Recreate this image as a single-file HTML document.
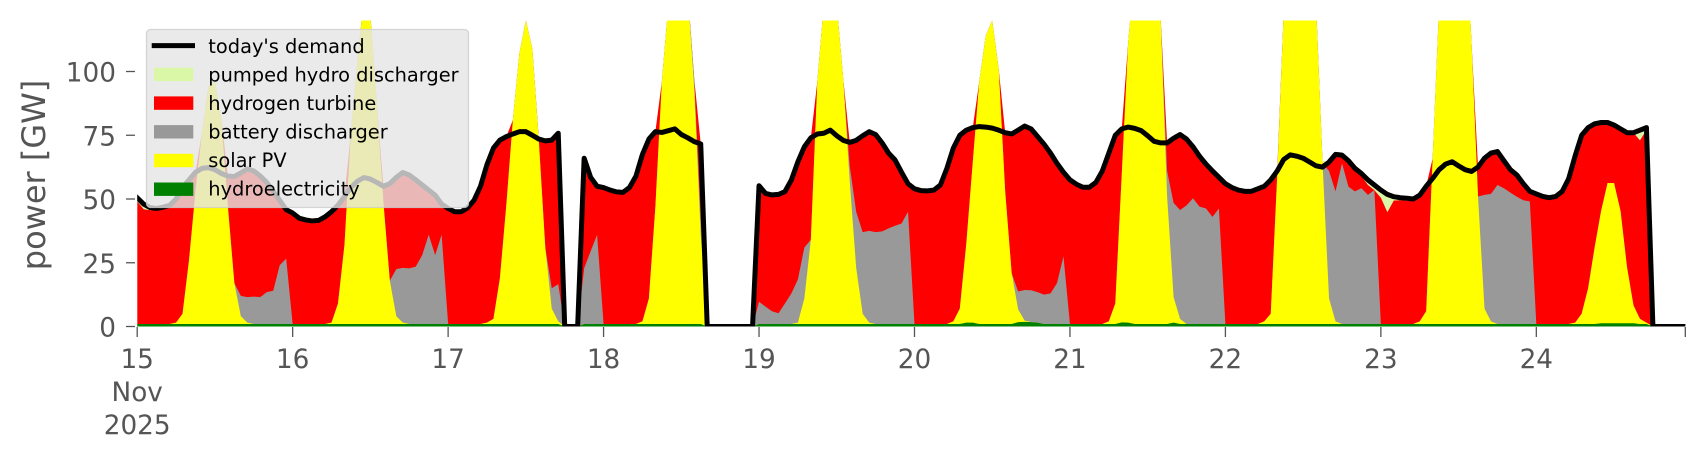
<!DOCTYPE html>
<html>
<head>
<meta charset="utf-8">
<style>
html,body{margin:0;padding:0;background:#ffffff;width:1706px;height:460px;overflow:hidden;}
svg{display:block;}
text{font-family:"DejaVu Sans","Liberation Sans",sans-serif;}
</style>
</head>
<body>
<svg id="chart" width="1706" height="460" viewBox="0 0 1706 460" xmlns="http://www.w3.org/2000/svg">
  <defs>
    <clipPath id="pa"><rect x="137.2" y="20.5" width="1548.2" height="306"/></clipPath>
  </defs>
  <rect x="0" y="0" width="1706" height="460" fill="#ffffff"/>
  <g id="plot" clip-path="url(#pa)"></g>

  <!-- y ticks -->
  <g stroke="#555555" stroke-width="1.3">
    <line x1="126" y1="326.5" x2="135" y2="326.5"/>
    <line x1="126" y1="262.75" x2="135" y2="262.75"/>
    <line x1="126" y1="199" x2="135" y2="199"/>
    <line x1="126" y1="135.25" x2="135" y2="135.25"/>
    <line x1="126" y1="71.5" x2="135" y2="71.5"/>
  </g>
  <g fill="#555555" font-size="26.3" text-anchor="end">
    <text x="116" y="336.5">0</text>
    <text x="116" y="272.75">25</text>
    <text x="116" y="209">50</text>
    <text x="116" y="145.25">75</text>
    <text x="116" y="81.5">100</text>
  </g>
  <text transform="translate(45,175) rotate(-90)" text-anchor="middle" font-size="32" fill="#555555">power [GW]</text>

  <!-- x ticks -->
  <g stroke="#555555" stroke-width="1.3">
    <line x1="137.2" y1="327" x2="137.2" y2="337"/>
    <line x1="292.66" y1="327" x2="292.66" y2="337"/>
    <line x1="448.12" y1="327" x2="448.12" y2="337"/>
    <line x1="603.57" y1="327" x2="603.57" y2="337"/>
    <line x1="759.03" y1="327" x2="759.03" y2="337"/>
    <line x1="914.49" y1="327" x2="914.49" y2="337"/>
    <line x1="1069.95" y1="327" x2="1069.95" y2="337"/>
    <line x1="1225.41" y1="327" x2="1225.41" y2="337"/>
    <line x1="1380.87" y1="327" x2="1380.87" y2="337"/>
    <line x1="1536.32" y1="327" x2="1536.32" y2="337"/>
    <line x1="1685.3" y1="327" x2="1685.3" y2="337"/>
  </g>
  <g fill="#555555" font-size="26.3" text-anchor="middle">
    <text x="137.2" y="368">15</text>
    <text x="137.2" y="401">Nov</text>
    <text x="137.2" y="434">2025</text>
    <text x="292.66" y="368">16</text>
    <text x="448.12" y="368">17</text>
    <text x="603.57" y="368">18</text>
    <text x="759.03" y="368">19</text>
    <text x="914.49" y="368">20</text>
    <text x="1069.95" y="368">21</text>
    <text x="1225.41" y="368">22</text>
    <text x="1380.87" y="368">23</text>
    <text x="1536.32" y="368">24</text>
  </g>

  <!-- legend -->
  <rect x="146.5" y="29.5" width="322" height="178" rx="4" ry="4" fill="#e5e5e5" fill-opacity="0.8" stroke="#cccccc" stroke-opacity="0.8" stroke-width="1.3"/>
  <line x1="151.7" y1="45.6" x2="195" y2="45.6" stroke="#000000" stroke-width="5"/>
  <rect x="154" y="67.7" width="39.3" height="13.4" fill="#d9f7a6"/>
  <rect x="154" y="96.4" width="39.3" height="13.4" fill="#ff0000"/>
  <rect x="154" y="125.1" width="39.3" height="13.4" fill="#999999"/>
  <rect x="154" y="153.8" width="39.3" height="13.4" fill="#ffff00"/>
  <rect x="154" y="182.5" width="39.3" height="13.4" fill="#008000"/>
  <g fill="#000000" font-size="19.4">
    <text x="208.3" y="53.2">today's demand</text>
    <text x="208.3" y="81.5">pumped hydro discharger</text>
    <text x="208.3" y="110">hydrogen turbine</text>
    <text x="208.3" y="138.5">battery discharger</text>
    <text x="208.3" y="167">solar PV</text>
    <text x="208.3" y="195.5">hydroelectricity</text>
  </g>
</svg>
<script>
(function(){
  var N=240;
  var X=function(h){return 137.2+6.4774*h;};
  var Y=function(v){return 326.5-2.55*v;};
  var D=[
   50.5,48,46.6,46.3,46.8,47.5,50,54.5,57.5,60.5,62,62.3,61.5,60,59,58.8,60.2,61.8,61,59,56.5,53,49.5,45.8,
   44.5,42.5,41.8,41.4,41.6,43,45,47.6,51,54.5,57,58.4,57.8,56.5,55,56,58.5,60.4,59.4,57.5,55.5,53.5,51.5,48,
   46.3,45,45,46.5,49.5,55,63.5,70,73.1,74.5,75.5,76.4,76.4,75,73.5,72.8,73.1,75.8,0,0,0,66,58.5,55,
   54.5,53.5,52.8,52.6,54.5,59,67.5,73.5,76.4,76.1,76.8,77.5,75.3,74,72.5,71.6,0,0,0,0,0,0,0,0,
   55.2,52.2,51.6,51.8,52.9,57.5,64.6,70.5,74,75.5,75.8,77,74.8,73,72.2,73,74.8,76.4,75.3,72,68,65.3,60.5,56,
   54,53.3,53.2,53.5,55.5,62,70,75,77,78,78.4,78.2,77.8,77,76,75.5,77,78.6,77.5,74.5,71.5,68,64,60.5,
   57.5,55.8,54.6,54.6,56.5,61,68,75,77.5,78.2,77.7,76.8,74.8,72.6,72,72,73.8,75.3,73.5,70.5,66.8,63.7,61,58.5,
   56,54.5,53.5,53,53,54,55,57.5,61,65.5,67.3,66.8,66,64.5,63,62.5,64.5,67.5,67.2,65,62,60,57.5,55.5,
   53.5,51.8,50.9,50.5,50.3,50,51.5,55,58.1,61.5,63.7,64.6,63,61.5,60.8,62.5,66,68,68.6,65,61.5,59.4,56,53,
   52,51,50.5,51,53,58,67,75,78,79.5,80,80,79,77.5,76,76,77,78,0,0,0,0,0,0
  ];
  var sol=[
   [0.5,4,25,52,75,93,95,80,46,16,3,0.5],
   [0.5,8,31,75,103,128,121,86,48,17,3,0.5],
   [0.5,2,18,47,80,106,119,108,72,30,6,1],
   [1,10,46,95,125,150,150,130,92,35,0,0],
   [0.5,10,33,95,125,150,125,96,56,22,4,0.5],
   [1,6,31,63,95,113,119,100,52,20,5,0.5],
   [1,8,58,110,140,160,160,150,120,50,10,2],
   [1,4,58,122,150,170,170,160,125,63,10,1],
   [1,5,65,125,160,175,175,160,110,50,6,1],
   [0.5,4,14,30,44,55,55,44,22,7,2,0.5]
  ];
  var bat={
   16:8,17:10,18:10.7,19:10.5,20:12.5,21:13,22:23,23:25.6,
   40:18.5,41:21.5,42:21.8,43:22.5,44:27,45:35,46:27,47:35,
   64:8,65:14.6,69:21.8,70:28.5,71:35,
   86:4,87:6,
   96:8.7,97:6.8,98:5,99:4.2,100:8,101:12,102:17,103:20,
   110:6,111:22,112:32,113:36,114:36,115:36.3,116:37.5,117:38.5,118:39.4,119:44,
   136:7,137:12,138:12.5,139:12,140:11.5,141:12,142:16,143:26.5,
   159:10,160:37,161:42.7,162:46.5,163:49.3,164:46,165:45.3,166:42,167:45.3,
   184:50,185:51,186:63,187:53.8,188:52,189:53.2,190:50.6,191:52.5,
   208:44.6,209:50,210:54.5,211:53.2,212:51.5,213:49.9,214:48.5,215:48
  };
  var pum={0:1.5,1:2,2:1,3:0.5,
   168:0.7,169:0.7,170:0.7,171:0.7,172:0.7,173:0.7,174:0.7,175:0.7,
   183:1,189:1,190:2,191:2.5,192:3,193:7,194:1.5,195:1,196:1,197:0.7,
   203:0.6,204:0.6,205:0.6,211:1,212:1,232:4,233:1};
  var hyb={128:1.5,129:1.5,136:1.7,137:1.8,138:1.7,139:1.5,152:1.6,153:1.5,160:1.5,226:1.3,227:1.3,228:1.3,229:1.3,230:1.3,231:1.3};
  var S=[],B=[],P=[],H=[],R=[],h,d,i;
  for(h=0;h<N;h++){S[h]=0;B[h]=0;P[h]=0;H[h]=0;}
  for(d=0;d<sol.length;d++){for(i=0;i<12;i++){h=24*d+6+i;if(h<N)S[h]=sol[d][i];}}
  for(var k in bat){B[+k]=bat[k];}
  for(var k2 in pum){P[+k2]=pum[k2];}
  for(h=0;h<N;h++){
    if(D[h]<=0){S[h]=0;B[h]=0;P[h]=0;H[h]=0;}
    else{H[h]=(hyb[h]!==undefined)?hyb[h]:1.0;}
    R[h]=Math.max(0,D[h]-H[h]-S[h]-B[h]-P[h]);
  }
  var c1=[],c2=[],c3=[],c4=[],c5=[];
  for(h=0;h<N;h++){
    c1[h]=H[h];c2[h]=c1[h]+S[h];c3[h]=c2[h]+B[h];c4[h]=c3[h]+R[h];c5[h]=c4[h]+P[h];
  }
  function area(top,color){
    var s='M'+X(0).toFixed(2)+','+Y(0).toFixed(2);
    for(var j=0;j<N;j++){s+=' L'+X(j).toFixed(2)+','+Y(top[j]).toFixed(2);}
    s+=' L'+X(N-1).toFixed(2)+','+Y(0).toFixed(2)+' Z';
    return '<path d="'+s+'" fill="'+color+'" stroke="none"/>';
  }
  var out='';
  out+=area(c5,'#d9f7a6');
  out+=area(c4,'#ff0000');
  out+=area(c3,'#999999');
  out+=area(c2,'#ffff00');
  out+=area(c1,'#008000');
  var pts=[];
  for(h=0;h<N;h++){pts.push(X(h).toFixed(2)+','+Y(D[h]).toFixed(2));}
  out+='<polyline points="'+pts.join(' ')+'" fill="none" stroke="#000000" stroke-width="5" stroke-linejoin="round" stroke-linecap="square"/>';
  document.getElementById('plot').innerHTML=out;
})();
</script>
</body>
</html>
